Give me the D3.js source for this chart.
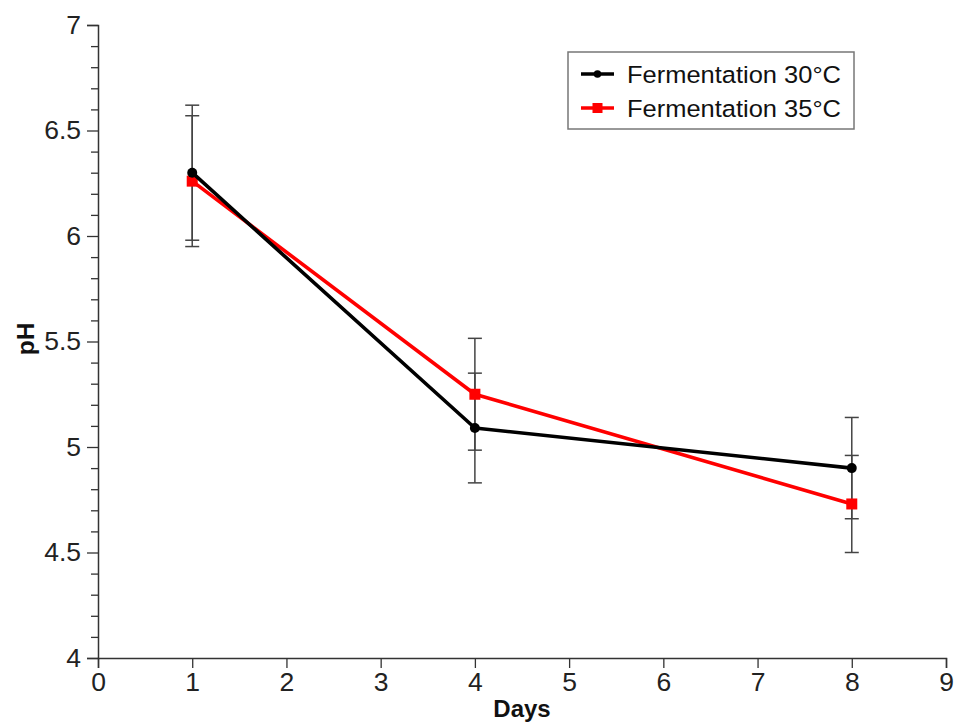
<!DOCTYPE html>
<html>
<head>
<meta charset="utf-8">
<script src="https://cdn.jsdelivr.net/npm/d3@7"></script>
<style>
  html, body { margin: 0; padding: 0; background: #fff; }
  svg { display: block; }
  text { font-family: "Liberation Sans", Arial, Helvetica, sans-serif; }
</style>
</head>
<body>
<svg id="chart" width="955" height="724"></svg>
<script>
// Sampling days and mean pH (± SD) for each fermentation temperature
const days = [1, 4, 8];
const seriesNames = ["Fermentation 30°C", "Fermentation 35°C"];
const ph30 = [6.30, 5.09, 4.90];
const sd30 = [0.32, 0.26, 0.24];
const ph35 = [6.26, 5.25, 4.73];
const sd35 = [0.31, 0.265, 0.23];
const xTicks = [0, 1, 2, 3, 4, 5, 6, 7, 8, 9];
const yTicks = [4, 4.5, 5, 5.5, 6, 6.5, 7];

const svg = d3.select("#chart");
const plotLeft = 98, plotRight = 946, plotTop = 25, plotBottom = 658;

const x = d3.scaleLinear().domain([0, 9]).range([plotLeft, plotRight]);
const y = d3.scaleLinear().domain([4, 7]).range([plotBottom, plotTop]);

const axisColor = "#333";
const tickFont = 26.5;

// Y axis: major ticks every 0.5 with minor ticks every 0.1
const yMinor = d3.range(40, 71).map(v => v / 10)
  .filter(v => Math.abs(v * 2 - Math.round(v * 2)) > 1e-6);
const gy = svg.append("g").attr("transform", `translate(${plotLeft},0)`);
gy.call(d3.axisLeft(y).tickValues(yMinor).tickSize(7).tickFormat(""));
gy.select(".domain").remove();
gy.selectAll(".tick line").attr("stroke", axisColor).attr("stroke-width", 1.3);
const gyMaj = svg.append("g").attr("transform", `translate(${plotLeft},0)`)
  .call(d3.axisLeft(y).tickValues(yTicks).tickSize(11).tickPadding(6)
    .tickFormat(d => d3.format("")(d)));
gyMaj.select(".domain").attr("stroke", axisColor).attr("stroke-width", 1.5);
gyMaj.selectAll(".tick line").attr("stroke", axisColor).attr("stroke-width", 1.3);
gyMaj.selectAll(".tick text").attr("font-size", tickFont).attr("fill", "#222")
  .attr("font-family", "Liberation Sans, Arial, sans-serif");

// X axis
const gx = svg.append("g").attr("transform", `translate(0,${plotBottom})`)
  .call(d3.axisBottom(x).tickValues(xTicks).tickSize(10).tickPadding(4).tickFormat(d3.format("d")));
gx.select(".domain").attr("stroke", axisColor).attr("stroke-width", 1.5);
gx.selectAll(".tick line").attr("stroke", axisColor).attr("stroke-width", 1.3);
gx.selectAll(".tick text").attr("font-size", tickFont).attr("fill", "#222")
  .attr("font-family", "Liberation Sans, Arial, sans-serif");

// Axis titles
svg.append("text").attr("x", 522).attr("y", 717).attr("text-anchor", "middle")
  .attr("font-size", 24).attr("font-weight", "bold").attr("fill", "#111").text("Days");
svg.append("text").attr("transform", "translate(34,339) rotate(-90)").attr("text-anchor", "middle")
  .attr("font-size", 24.5).attr("font-weight", "bold").attr("fill", "#111").text("pH");

const series = [
  { name: seriesNames[0], vals: ph30, sd: sd30, color: "#000", marker: "circle" },
  { name: seriesNames[1], vals: ph35, sd: sd35, color: "#ff0000", marker: "square" }
];

// Error bars
const capHalf = 7;
series.forEach(s => {
  const g = svg.append("g").attr("stroke", "#444").attr("stroke-width", 1.5);
  days.forEach((d, i) => {
    const hi = s.vals[i] + s.sd[i], lo = s.vals[i] - s.sd[i];
    g.append("line").attr("x1", x(d)).attr("x2", x(d)).attr("y1", y(hi)).attr("y2", y(lo));
    g.append("line").attr("x1", x(d) - capHalf).attr("x2", x(d) + capHalf).attr("y1", y(hi)).attr("y2", y(hi));
    g.append("line").attr("x1", x(d) - capHalf).attr("x2", x(d) + capHalf).attr("y1", y(lo)).attr("y2", y(lo));
  });
});

// Lines and markers (35°C drawn first so 30°C sits on top)
const line = d3.line().x(p => x(p[0])).y(p => y(p[1]));
[series[1], series[0]].forEach(s => {
  const pts = days.map((d, i) => [d, s.vals[i]]);
  svg.append("path").datum(pts).attr("d", line).attr("fill", "none")
    .attr("stroke", s.color).attr("stroke-width", 3.6).attr("stroke-linejoin", "round");
  pts.forEach(p => {
    if (s.marker === "circle") {
      svg.append("circle").attr("cx", x(p[0])).attr("cy", y(p[1])).attr("r", 5).attr("fill", s.color);
    } else {
      svg.append("rect").attr("x", x(p[0]) - 5.5).attr("y", y(p[1]) - 5.5)
        .attr("width", 11).attr("height", 11).attr("fill", s.color);
    }
  });
});

// Legend
const lg = svg.append("g");
lg.append("rect").attr("x", 568).attr("y", 52).attr("width", 286).attr("height", 77)
  .attr("fill", "#fff").attr("stroke", "#777").attr("stroke-width", 1.5);
series.forEach((s, i) => {
  const cy = 74 + i * 34;
  lg.append("line").attr("x1", 581).attr("x2", 614).attr("y1", cy).attr("y2", cy)
    .attr("stroke", s.color).attr("stroke-width", 3.4);
  if (s.marker === "circle") {
    lg.append("circle").attr("cx", 597.5).attr("cy", cy).attr("r", 3.8).attr("fill", s.color);
  } else {
    lg.append("rect").attr("x", 592.5).attr("y", cy - 5).attr("width", 10).attr("height", 10).attr("fill", s.color);
  }
  lg.append("text").attr("x", 627).attr("y", cy + 8.5).attr("font-size", 24.5).attr("fill", "#111")
    .attr("textLength", 214).attr("lengthAdjust", "spacingAndGlyphs")
    .text(s.name);
});
</script>
</body>
</html>
